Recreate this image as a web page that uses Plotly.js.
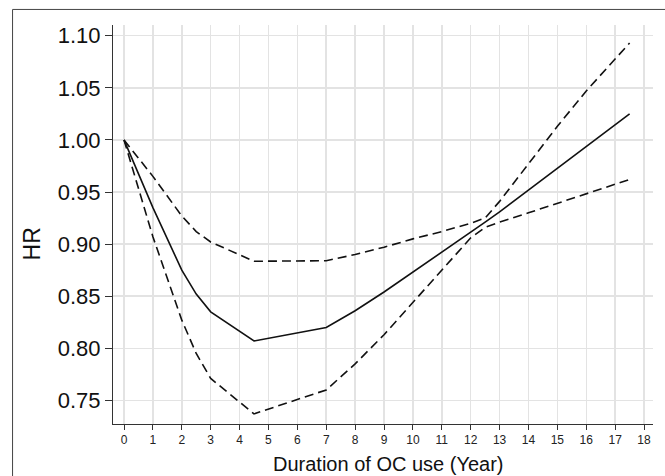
<!DOCTYPE html>
<html>
<head>
<meta charset="utf-8">
<script src="https://cdn.plot.ly/plotly-3.0.1.min.js"></script>
<style>
  html, body { margin: 0; padding: 0; background: #ffffff; overflow: hidden; }
  #chart { width: 665px; height: 476px; }
</style>
</head>
<body>
<div id="chart"></div>
<script>
// Duration of OC use (years)
var years = [0, 1, 2, 2.5, 3, 4.5, 7, 8, 9, 10, 11, 12, 12.5, 13, 14, 15, 16, 17, 17.5];
// Hazard ratio (point estimate)
var hr = [1.000, 0.935, 0.875, 0.852, 0.835, 0.807, 0.820, 0.836, 0.854, 0.873, 0.892, 0.911, 0.921, 0.931, 0.952, 0.973, 0.994, 1.015, 1.025];
// Confidence band (dashed)
var ciA = [1.000, 0.965, 0.927, 0.912, 0.902, 0.8835, 0.884, 0.890, 0.897, 0.905, 0.912, 0.920, 0.925, 0.941, 0.977, 1.013, 1.047, 1.078, 1.093];
var ciB = [1.000, 0.907, 0.827, 0.795, 0.771, 0.737, 0.760, 0.785, 0.813, 0.844, 0.876, 0.906, 0.916, 0.921, 0.930, 0.939, 0.948, 0.957, 0.962];

var xTicks = [0, 1, 2, 3, 4, 5, 6, 7, 8, 9, 10, 11, 12, 13, 14, 15, 16, 17, 18];
var yTicks = [0.75, 0.80, 0.85, 0.90, 0.95, 1.00, 1.05, 1.10];
var yTickText = ["0.75", "0.80", "0.85", "0.90", "0.95", "1.00", "1.05", "1.10"];

var lineColor = "#111111";
var traces = [
  { x: years, y: ciA, type: "scatter", mode: "lines", name: "Upper CI",
    line: { color: lineColor, width: 1.6, dash: "9px,5px" }, hoverinfo: "x+y" },
  { x: years, y: ciB, type: "scatter", mode: "lines", name: "Lower CI",
    line: { color: lineColor, width: 1.6, dash: "9px,5px" }, hoverinfo: "x+y" },
  { x: years, y: hr, type: "scatter", mode: "lines", name: "HR",
    line: { color: lineColor, width: 1.6 }, hoverinfo: "x+y" }
];

var font = "Liberation Sans, Arial, Helvetica, sans-serif";
var layout = {
  width: 665, height: 476,
  margin: { l: 113, r: 12, t: 25, b: 52, pad: 0 },
  paper_bgcolor: "#ffffff", plot_bgcolor: "#ffffff",
  showlegend: false,
  font: { family: font, color: "#111111" },
  xaxis: {
    range: [-0.381, 18.31],
    tickmode: "array", tickvals: xTicks, ticktext: xTicks.map(String),
    tickfont: { size: 12, family: font, color: "#222222" },
    ticks: "outside", ticklen: 5, tickwidth: 1, tickcolor: "#333333",
    showline: true, linecolor: "#333333", linewidth: 1,
    showgrid: true, gridcolor: "#e3e3e3", gridwidth: 1.5,
    zeroline: false, fixedrange: true
  },
  yaxis: {
    range: [0.7273, 1.1103],
    tickmode: "array", tickvals: yTicks, ticktext: yTickText,
    tickfont: { size: 22, family: font, color: "#111111" },
    ticks: "outside", ticklen: 7, tickwidth: 1, tickcolor: "#333333",
    showline: true, linecolor: "#333333", linewidth: 1,
    showgrid: true, gridcolor: "#e3e3e3", gridwidth: 1.5,
    zeroline: false, fixedrange: true
  },
  annotations: [
    { text: "Duration of OC use (Year)", xref: "paper", yref: "paper",
      x: 0.509, y: -0.099, xanchor: "center", yanchor: "middle", showarrow: false,
      font: { size: 20, family: font, color: "#111111" } },
    { text: "HR", xref: "paper", yref: "paper", textangle: -90,
      x: -0.15, y: 0.45, xanchor: "center", yanchor: "middle", showarrow: false,
      font: { size: 23, family: font, color: "#111111" } }
  ],
  shapes: [
    { type: "line", xref: "paper", yref: "paper",
      x0: -0.186, x1: 1.03, y0: 1.039, y1: 1.039,
      line: { color: "#444444", width: 1 }, layer: "below" },
    { type: "line", xref: "paper", yref: "paper",
      x0: -0.186, x1: -0.186, y0: -0.14, y1: 1.039,
      line: { color: "#444444", width: 1 }, layer: "below" }
  ]
};

Plotly.newPlot("chart", traces, layout, { displayModeBar: false, staticPlot: true });
</script>
</body>
</html>
